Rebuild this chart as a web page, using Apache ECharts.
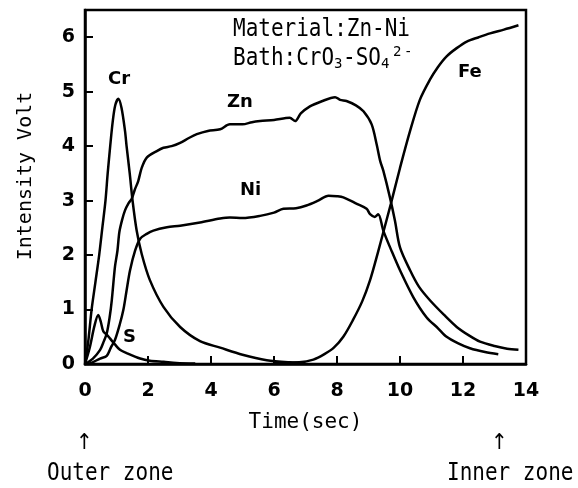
<!DOCTYPE html>
<html>
<head>
<meta charset="utf-8">
<script src="https://cdn.jsdelivr.net/npm/echarts@6/dist/echarts.min.js"></script>
<style>
  html, body { margin: 0; padding: 0; background: #fff; }
  #chart { width: 578px; height: 488px; }
</style>
</head>
<body>
<div id="chart"></div>
<script>
// time (sec) / intensity (volt)
const crData = [[0,0],[0.1,0.4],[0.21,1.0],[0.33,1.5],[0.45,2.0],[0.55,2.5],[0.65,3.0],[0.72,3.5],[0.8,4.0],[0.88,4.45],[0.96,4.75],[1.06,4.87],[1.16,4.7],[1.27,4.28],[1.32,4.0],[1.42,3.5],[1.51,3.0],[1.64,2.45],[1.8,2.02],[2.06,1.54],[2.49,1.05],[3.02,0.68],[3.65,0.42],[4.29,0.3],[5.0,0.17],[5.77,0.07],[6.5,0.03],[7.0,0.02]];
const znData = [[0,0],[0.25,0.1],[0.48,0.26],[0.6,0.42],[0.69,0.56],[0.78,0.85],[0.85,1.17],[0.95,1.78],[1.03,2.08],[1.09,2.42],[1.18,2.65],[1.27,2.82],[1.38,2.95],[1.48,3.03],[1.58,3.2],[1.69,3.36],[1.8,3.6],[1.96,3.79],[2.28,3.91],[2.49,3.97],[2.75,4.0],[3.02,4.06],[3.3,4.15],[3.55,4.22],[3.9,4.28],[4.29,4.31],[4.6,4.4],[5.0,4.4],[5.3,4.44],[5.56,4.46],[6.0,4.48],[6.5,4.52],[6.67,4.46],[6.85,4.6],[7.14,4.73],[7.5,4.82],[7.94,4.9],[8.1,4.85],[8.3,4.83],[8.6,4.75],[8.84,4.64],[9.1,4.4],[9.26,4.03],[9.37,3.73],[9.47,3.55],[9.68,3.06],[9.84,2.63],[10.0,2.14],[10.32,1.72],[10.6,1.42],[10.95,1.17],[11.4,0.9],[11.8,0.68],[12.2,0.52],[12.54,0.41],[13.0,0.33],[13.4,0.28],[13.76,0.26]];
const niData = [[0,0],[0.16,0.01],[0.48,0.1],[0.69,0.15],[0.82,0.3],[0.95,0.44],[1.1,0.72],[1.22,1.0],[1.32,1.35],[1.43,1.72],[1.59,2.08],[1.75,2.3],[1.96,2.39],[2.17,2.45],[2.6,2.51],[3.02,2.54],[3.65,2.6],[4.29,2.67],[4.6,2.69],[5.0,2.68],[5.56,2.72],[6.0,2.78],[6.3,2.85],[6.7,2.86],[7.03,2.91],[7.4,3.0],[7.73,3.09],[8.0,3.08],[8.2,3.06],[8.63,2.94],[8.94,2.85],[9.05,2.75],[9.2,2.7],[9.31,2.75],[9.47,2.45],[9.73,2.08],[10.0,1.72],[10.42,1.23],[10.84,0.86],[11.2,0.66],[11.48,0.5],[11.85,0.38],[12.22,0.29],[12.7,0.22],[13.12,0.18]];
const sData = [[0,0],[0.15,0.3],[0.3,0.7],[0.42,0.9],[0.5,0.78],[0.58,0.6],[0.69,0.54],[0.79,0.47],[0.95,0.36],[1.11,0.26],[1.32,0.2],[1.75,0.1],[2.06,0.06],[2.5,0.04],[2.9,0.02],[3.5,0.01]];
const feData = [[6.0,0.02],[6.8,0.03],[7.25,0.08],[7.6,0.18],[7.9,0.3],[8.2,0.5],[8.5,0.8],[8.8,1.15],[9.05,1.54],[9.3,2.05],[9.47,2.42],[9.71,2.94],[10.0,3.6],[10.32,4.28],[10.63,4.85],[10.95,5.22],[11.2,5.45],[11.48,5.65],[11.8,5.8],[12.12,5.92],[12.5,6.0],[12.86,6.07],[13.3,6.14],[13.76,6.22]];

const yTicks = [0, 1, 2, 3, 4, 5, 6];
const xTicks = [0, 2, 4, 6, 8, 10, 12, 14];

const mono = 'DejaVu Sans Mono';
const narrow = 'Liberation Sans Narrow, DejaVu Sans';

let chart = echarts.init(document.getElementById('chart'));

function curve(name, data) {
    return {
        name: name,
        type: 'line',
        data: data,
        showSymbol: false,
        smooth: 0.3,
        lineStyle: { color: '#000', width: 2.5 },
        animation: false
    };
}

// text placed at top-left corner; tall mono text is stretched a little like the scan
function label(text, x, y, size, font, sy, weight) {
    return {
        type: 'text',
        x: x,
        y: y,
        scaleY: sy || 1,
        style: { text: text, fill: '#000', font: (weight ? weight + ' ' : '') + size + 'px ' + font, verticalAlign: 'top' }
    };
}

let option = {
    backgroundColor: '#fff',
    grid: {
        left: 85, right: 52, top: 10, bottom: 124,
        show: true, borderColor: '#000', borderWidth: 2.5
    },
    xAxis: {
        type: 'value',
        min: 0, max: 14, interval: 2,
        name: 'Time(sec)',
        nameLocation: 'middle',
        nameGap: 48,
        nameTextStyle: { color: '#000', fontFamily: mono, fontSize: 21 },
        axisLine: { lineStyle: { color: '#000', width: 2.5 } },
        axisTick: { inside: true, length: 8, lineStyle: { color: '#000', width: 2 } },
        axisLabel: { color: '#000', fontFamily: narrow, fontWeight: 'bold', fontSize: 19, margin: 18, customValues: xTicks },
        splitLine: { show: false }
    },
    yAxis: {
        type: 'value',
        min: 0, max: 6.5,
        axisLine: { lineStyle: { color: '#000', width: 2.5 } },
        axisTick: { inside: true, length: 8, lineStyle: { color: '#000', width: 2 }, customValues: yTicks },
        axisLabel: { color: '#000', fontFamily: narrow, fontWeight: 'bold', fontSize: 19, margin: 10, customValues: yTicks },
        splitLine: { show: false }
    },
    series: [
        curve('Cr', crData),
        curve('Zn', znData),
        curve('Ni', niData),
        curve('S', sData),
        curve('Fe', feData)
    ],
    graphic: [
        {
            type: 'text',
            x: 26, y: 176,
            rotation: Math.PI / 2,
            style: { text: 'Intensity Volt', fill: '#000', font: '20px ' + mono, align: 'center', verticalAlign: 'middle' }
        },
        label('Material:Zn-Ni', 233, 17, 21, mono, 1.2),
        label('Bath:CrO', 233, 46, 21, mono, 1.2),
        label('3', 334, 57, 14, mono),
        label('-SO', 343, 46, 21, mono, 1.2),
        label('4', 381, 57, 14, mono),
        label('2', 393, 45, 14, mono),
        label('-', 404, 45, 14, mono),
        label('Cr', 108, 70, 18, narrow, 1, 'bold'),
        label('Zn', 227, 93, 18, narrow, 1, 'bold'),
        label('Ni', 240, 181, 18, narrow, 1, 'bold'),
        label('S', 123, 328, 18, narrow, 1, 'bold'),
        label('Fe', 458, 63, 18, narrow, 1, 'bold'),
        label('\u2191', 76, 432, 20, 'DejaVu Sans', 1.1),
        label('Outer zone', 47, 462, 21, mono, 1.15),
        label('\u2191', 491, 432, 20, 'DejaVu Sans', 1.1),
        label('Inner zone', 447, 462, 21, mono, 1.15)
    ]
};
chart.setOption(option);
</script>
</body>
</html>
